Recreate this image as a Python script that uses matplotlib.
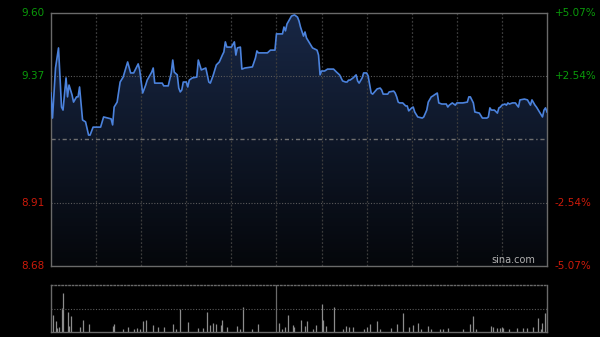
import matplotlib
matplotlib.use('Agg')
import matplotlib.pyplot as plt
import numpy as np

# intraday price (minute index from open, price)
minutes = [0, 1, 3, 5, 7, 8, 10, 11, 12, 14, 15, 17, 18, 19, 21, 23, 25, 26, 28, 33,
           35, 38, 40, 41, 42, 44, 46, 48, 51, 53, 55, 57, 58, 59, 61, 63, 64, 66, 67, 68,
           69, 71, 74, 75, 78, 80, 81, 82, 84, 85, 86, 87, 88, 90, 91, 92, 94, 97, 98, 100,
           103, 105, 106, 108, 110, 112, 114, 115, 116, 117, 120, 122, 123, 124, 126, 127, 129, 134, 136, 137,
           138, 144, 146, 149, 150, 154, 155, 156, 157, 160, 162, 164, 165, 166, 168, 169, 170, 172, 174, 177,
           178, 179, 180, 182, 184, 188, 190, 192, 194, 196, 197, 198, 199, 201, 203, 204, 205, 207, 208, 210,
           211, 213, 214, 217, 219, 220, 221, 224, 225, 228, 229, 230, 231, 232, 234, 236, 237, 238, 240, 241,
           242, 244, 247, 248, 250, 251, 253, 254, 255, 257, 258, 260, 263, 264, 265, 267, 269, 270, 274, 277,
           278, 279, 281, 282, 285, 287, 290, 291, 292, 293, 295, 297, 298, 299, 300, 302, 303, 304, 305, 307,
           309, 310, 311, 312, 315, 317, 319, 320, 322, 323, 325, 327, 328, 329, 330]
prices = [9.309, 9.218, 9.400, 9.473, 9.258, 9.247, 9.364, 9.295, 9.338, 9.302, 9.276, 9.295, 9.295, 9.331, 9.211, 9.204, 9.156, 9.156, 9.185, 9.185,
          9.222, 9.218, 9.215, 9.193, 9.258, 9.276, 9.349, 9.367, 9.422, 9.382, 9.382, 9.404, 9.415, 9.393, 9.309, 9.338, 9.356, 9.375, 9.385, 9.400,
          9.345, 9.345, 9.345, 9.335, 9.335, 9.382, 9.429, 9.385, 9.375, 9.327, 9.313, 9.320, 9.349, 9.349, 9.331, 9.356, 9.364, 9.367, 9.429, 9.393,
          9.400, 9.349, 9.345, 9.375, 9.411, 9.422, 9.447, 9.458, 9.495, 9.476, 9.476, 9.495, 9.447, 9.473, 9.476, 9.396, 9.400, 9.404, 9.436, 9.462,
          9.455, 9.455, 9.465, 9.465, 9.524, 9.524, 9.549, 9.535, 9.560, 9.589, 9.593, 9.585, 9.571, 9.549, 9.516, 9.531, 9.509, 9.491, 9.473, 9.465,
          9.447, 9.375, 9.389, 9.389, 9.396, 9.396, 9.385, 9.375, 9.353, 9.349, 9.349, 9.356, 9.356, 9.364, 9.375, 9.353, 9.345, 9.364, 9.382, 9.382,
          9.371, 9.309, 9.305, 9.324, 9.327, 9.320, 9.305, 9.305, 9.313, 9.316, 9.309, 9.295, 9.276, 9.273, 9.273, 9.262, 9.262, 9.244, 9.255, 9.258,
          9.240, 9.222, 9.218, 9.222, 9.247, 9.276, 9.295, 9.298, 9.302, 9.309, 9.273, 9.269, 9.269, 9.258, 9.265, 9.273, 9.265, 9.273, 9.273, 9.276,
          9.295, 9.295, 9.273, 9.240, 9.236, 9.218, 9.218, 9.222, 9.255, 9.247, 9.247, 9.236, 9.255, 9.258, 9.265, 9.269, 9.265, 9.273, 9.269, 9.273,
          9.273, 9.265, 9.258, 9.284, 9.287, 9.284, 9.265, 9.284, 9.265, 9.258, 9.240, 9.222, 9.247, 9.255, 9.240]

# volume bars (minute index, volume in lots)
vol_minutes = [1, 3, 4, 5, 7, 8, 11, 12, 13, 19, 21, 25, 41, 42, 48, 51, 55, 57, 59, 61,
               63, 68, 71, 75, 81, 83, 86, 91, 98, 101, 104, 106, 108, 110, 113, 114, 117, 124, 126, 128,
               134, 138, 152, 154, 156, 158, 161, 162, 166, 169, 170, 174, 176, 180, 181, 183, 188, 194, 196, 198,
               201, 208, 210, 212, 217, 219, 226, 230, 234, 238, 241, 244, 246, 251, 253, 259, 261, 264, 274, 279,
               281, 283, 293, 294, 297, 299, 300, 301, 305, 310, 314, 317, 321, 324, 326, 327, 329, 330]
volumes = [1700, 1100, 400, 500, 2400, 3900, 2000, 600, 1600, 500, 1200, 800, 600, 800, 300, 500, 300, 400, 300, 1100,
           1200, 700, 500, 500, 800, 300, 2300, 1000, 400, 400, 2000, 700, 900, 800, 700, 1200, 500, 600, 300, 2500,
           300, 800, 900, 300, 500, 1700, 700, 500, 1200, 600, 1100, 300, 700, 2800, 1200, 600, 2500, 300, 600, 500,
           500, 300, 500, 800, 1100, 300, 400, 800, 1900, 500, 700, 900, 300, 600, 300, 300, 300, 400, 300, 800,
           1600, 300, 600, 500, 400, 400, 500, 400, 300, 400, 400, 400, 500, 1400, 300, 900, 1900, 2500]

price_ticks = [9.60, 9.37, 9.14, 8.91, 8.68]
left_labels = ['9.60', '9.37', '', '8.91', '8.68']
right_labels = ['+5.07%', '+2.54%', '', '-2.54%', '-5.07%']
label_colors = ['#0a9a0a', '#0a9a0a', '#888888', '#cc1a0a', '#cc1a0a']

fig = plt.figure(figsize=(6, 3.37), dpi=100, facecolor='black')
ax = fig.add_axes([51 / 600, 71 / 337, 496 / 600, 253 / 337], facecolor='black')
axv = fig.add_axes([51 / 600, 5 / 337, 496 / 600, 47 / 337], facecolor='black')

ax.set_xlim(0, 330)
ax.set_ylim(8.68, 9.60)

# gradient fill under the price line
grad = np.linspace(1, 0, 256).reshape(-1, 1)
top_c = np.array([0x18, 0x27, 0x45]) / 255
bot_c = np.array([0x05, 0x07, 0x0b]) / 255
img = grad[..., None] * top_c + (1 - grad[..., None]) * bot_c
poly = ax.fill_between(minutes, prices, 8.68, color='none', lw=0)
im = ax.imshow(img, extent=[0, 330, 8.68, 9.60], aspect='auto', zorder=1)
path = poly.get_paths()[0]
im.set_clip_path(path, transform=ax.transData)

ax.plot(minutes, prices, color='#4b82dc', lw=1.2, zorder=3)

# grid
for m in range(30, 330, 30):
    ax.axvline(m, color='#3c3c3c', lw=0.9, ls=(0, (1.5, 1.5)), zorder=2)
ax.axhline(9.37, color='#5a5a5a', lw=0.8, ls=(0, (1, 1.5)), zorder=2)
ax.axhline(8.91, color='#5a5a5a', lw=0.8, ls=(0, (1, 1.5)), zorder=2)
ax.axhline(9.14, color='#707070', lw=1.0, ls=(0, (3, 2, 1, 2)), zorder=2)

ax.set_xticks([])
ax.set_yticks([])
for s in ax.spines.values():
    s.set_color('#6a6a6a')
    s.set_linewidth(1.0)

for p, lab, rl, c in zip(price_ticks, left_labels, right_labels, label_colors):
    ax.text(-4, p, lab, color=c, fontsize=7.5, ha='right', va='center', transform=ax.transData)
    ax.text(335, p, rl, color=c, fontsize=7.5, ha='left', va='center', transform=ax.transData)

ax.text(322, 8.685, 'sina.com', color='#b0b0b0', fontsize=7, ha='right', va='bottom')

# volume panel
axv.set_xlim(0, 330)
axv.set_ylim(0, 4700)
axv.vlines(vol_minutes, 0, volumes, color='#8c8c8c', lw=0.9)
axv.axhline(2350, color='#5a5a5a', lw=0.8, ls=(0, (1, 1.5)))
axv.axvline(150, color='#6a6a6a', lw=0.9)
axv.set_xticks([])
axv.set_yticks([])
for k, s in axv.spines.items():
    s.set_color('#6a6a6a')
    s.set_linewidth(1.0)
axv.spines['top'].set_linestyle((0, (1, 1.5)))

fig.savefig('out.png', dpi=100, facecolor='black')
